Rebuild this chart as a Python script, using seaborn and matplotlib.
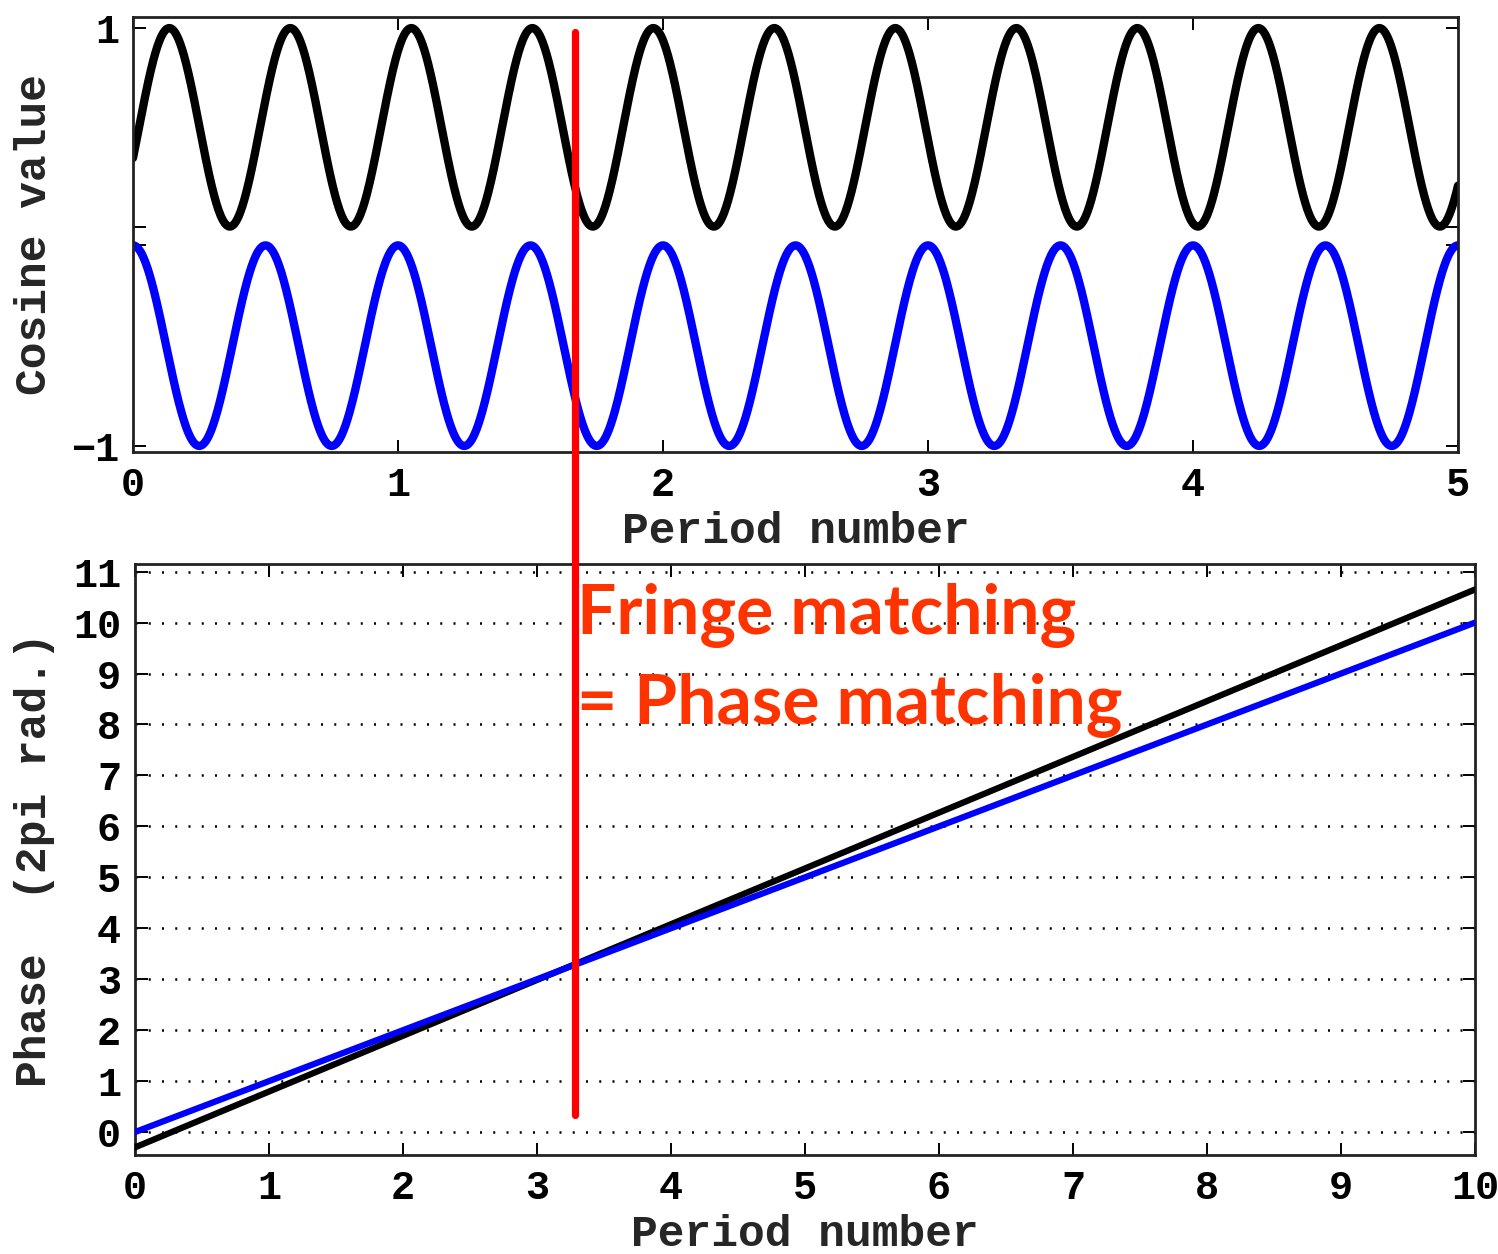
import numpy as np
import pandas as pd
import matplotlib
matplotlib.use("Agg")
import matplotlib.pyplot as plt
import seaborn as sns

# ---------------- data ----------------
period_ends = [0.0, 10.0]            # period number (bottom x range)
blue_phase_ends = [0.0, 10.0]        # phase (2pi rad.) of blue fringe
black_phase_ends = [-0.3, 10.65]     # phase (2pi rad.) of black fringe
match_period = 3.28                  # fringe / phase matching position
top_xticks = [0, 1, 2, 3, 4, 5]
top_yticks = [-1, -0.04, 0.05, 1]
top_yticklabels = ["\u22121", "", "", "1"]
bottom_xticks = list(range(0, 11))
bottom_yticks = list(range(0, 12))
black_band = [0.05, 1.0]             # black cosine range (top panel)
blue_band = [-1.0, -0.04]            # blue cosine range (top panel)
annotation = "Fringe matching\n= Phase matching"

# ---------------- style ----------------
sns.set_style("ticks")
plt.rcParams["font.family"] = ["Liberation Mono", "DejaVu Sans Mono"]
plt.rcParams["font.weight"] = "bold"
plt.rcParams["axes.labelweight"] = "bold"

fig = plt.figure(figsize=(14.98, 12.54), dpi=100)
ax1 = fig.add_axes([133/1498, 1-452/1254, (1458-133)/1498, (452-17)/1254])
ax2 = fig.add_axes([135/1498, 1-1155/1254, (1475-135)/1498, (1155-564)/1254])

# ---------------- top panel: cosine value ----------------
xt = np.linspace(0, 5, 2000)                         # top axis: half-period units
per = xt * (period_ends[1] - period_ends[0]) / 5.0   # in period number
ph_blue = np.interp(per, period_ends, blue_phase_ends)
ph_black = np.interp(per, period_ends, black_phase_ends)
c_black = black_band[0] + (black_band[1]-black_band[0]) * 0.5 * (1 + np.cos(2*np.pi*ph_black))
c_blue = blue_band[0] + (blue_band[1]-blue_band[0]) * 0.5 * (1 + np.cos(2*np.pi*ph_blue))
df_top = pd.DataFrame({"x": np.concatenate([xt, xt]),
                       "y": np.concatenate([c_black, c_blue]),
                       "s": ["black"]*len(xt) + ["blue"]*len(xt)})
sns.lineplot(data=df_top, x="x", y="y", hue="s", palette={"black": "black", "blue": "#0000FF"},
             ax=ax1, linewidth=6.0, legend=False, sort=False, estimator=None)
ax1.set_xlim(0, 5)
ax1.set_ylim(-1.029, 1.053)
ax1.set_xticks(top_xticks)
ax1.set_xticklabels([str(t) for t in top_xticks])
ax1.set_yticks(top_yticks)
ax1.set_yticklabels(top_yticklabels)
ax1.set_xlabel("Period number", fontsize=32, labelpad=5)
ax1.set_ylabel("Cosine value", fontsize=32)
ax1.yaxis.set_label_coords((55-133)/1325, 0.5)

# ---------------- bottom panel: phase ----------------
df_bot = pd.DataFrame({"x": period_ends + period_ends,
                       "y": black_phase_ends + blue_phase_ends,
                       "s": ["black", "black", "blue", "blue"]})
sns.lineplot(data=df_bot, x="x", y="y", hue="s", palette={"black": "black", "blue": "#0000FF"},
             ax=ax2, linewidth=4.5, legend=False, sort=False, estimator=None, zorder=3)
ax2.set_xlim(0, 10)
ax2.set_ylim(-0.45, 11.15)
ax2.set_xticks(bottom_xticks)
ax2.set_yticks(bottom_yticks)
ax2.yaxis.grid(True, color="black", linestyle=(0, (0.8, 4.5)), linewidth=1.8)
ax2.set_xlabel("Period number", fontsize=32, labelpad=5)
ax2.set_ylabel("Phase  (2pi rad.)", fontsize=32)
ax2.yaxis.set_label_coords((55-135)/1340, 0.5)

for ax in (ax1, ax2):
    ax.tick_params(direction="in", length=9, width=1.4, top=True, right=True,
                   labelsize=29, pad=10, colors="black")
    for sp in ax.spines.values():
        sp.set_visible(True)
        sp.set_linewidth(2.0)
        sp.set_color("#222222")

# red matching line spanning both panels
h2 = 1155 - 564
ax2.axvline(match_period, ymin=(1155-1115)/h2, ymax=(1155-32)/h2,
            color="#FF0000", linewidth=5.2, clip_on=False, zorder=10)

ax2.text(match_period + 0.015, 10.78, annotation, color="#FF3300",
         fontsize=50, fontweight="bold", family=["Lato", "DejaVu Sans"],
         va="top", ha="left", linespacing=1.5, zorder=11)

fig.savefig("out.png", dpi=100)
